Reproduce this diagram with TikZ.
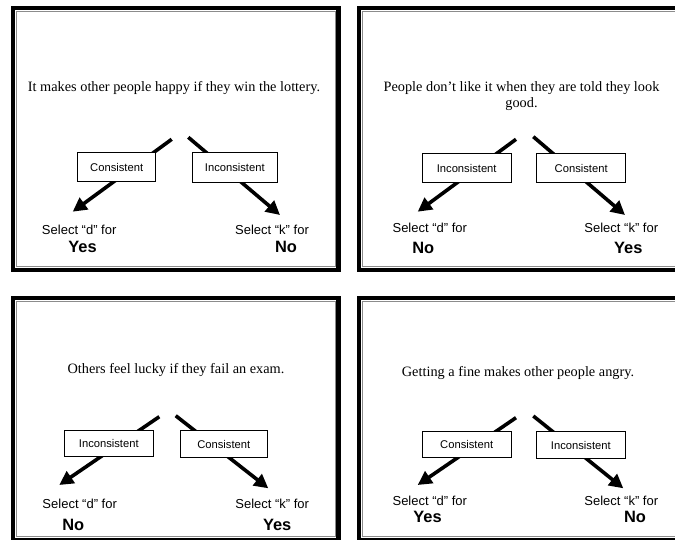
\documentclass[tikz,border=0pt]{standalone}
\usepackage{fontspec}
\setmainfont{Liberation Serif}
\newfontfamily\arialfont{Liberation Sans}
\usetikzlibrary{arrows.meta}
\tikzset{
  sent/.style={font=\fontsize{14.3}{15.7}\selectfont, inner sep=0pt, anchor=base},
  choice/.style={draw, fill=white, line width=0.8pt, inner sep=0pt,
    font=\arialfont\fontsize{11.2}{13}\selectfont},
  sel/.style={font=\arialfont\fontsize{13}{15}\selectfont, inner sep=0pt},
  ans/.style={font=\arialfont\bfseries\fontsize{16.4}{18}\selectfont, inner sep=0pt},
  arr/.style={line width=3.6pt, -{Triangle[length=14pt,width=14pt]}},
  frameout/.style={draw=black, line width=4.5pt},
  framein/.style={draw=black!45, line width=1.2pt},
}
\begin{document}
\begin{tikzpicture}[x=1pt,y=-1pt]
\useasboundingbox (0,0) rectangle (675,540);
\fill[white] (0,0) rectangle (675,540);
\clip (0,0) rectangle (675,540);

% ---------- frames ----------
\draw[frameout] (13.2,8) rectangle (338.5,270);
\draw[framein] (16.7,11.7) rectangle (335.2,266.5);
\draw[frameout] (359.2,8) rectangle (690,270);
\draw[framein] (362.7,11.7) rectangle (690,266.5);
\draw[frameout] (13.2,298) rectangle (338.5,540);
\draw[framein] (16.7,301.7) rectangle (335.2,536.3);
\draw[frameout] (359.2,298) rectangle (690,540);
\draw[framein] (362.7,301.7) rectangle (690,536.3);

% ---------- panel 1 ----------
\node[sent] (s1) at (174,91.7) {It makes other people happy if they win the lottery.};
\coordinate (a1l) at (171.7,139.3);
\coordinate (t1l) at (72.7,211.7);
\coordinate (a1r) at (188.3,137.3);
\coordinate (t1r) at (280,215);
\draw[arr] (a1l) -- (t1l);
\draw[arr] (a1r) -- (t1r);
\node[choice, minimum width=78pt, minimum height=29pt] (b1l) at (116.7,167.2) {Consistent};
\node[choice, minimum width=85pt, minimum height=30pt] (b1r) at (234.8,167.7) {Inconsistent};
\node[sel] (d1) at (79.2,229.5) {Select “d” for};
\node[ans] (y1) at (82.5,246.7) {Yes};
\node[sel] (k1) at (272,229.5) {Select “k” for};
\node[ans] (n1) at (286,247) {No};

% ---------- panel 2 ----------
\node[sent, anchor=north, align=center] (s2) at (521.5,81.2)
  {People don’t like it when they are told they look\\good.};
\coordinate (a2l) at (516,139.3);
\coordinate (t2l) at (417.7,211.7);
\coordinate (a2r) at (533.3,136.7);
\coordinate (t2r) at (625,215);
\draw[arr] (a2l) -- (t2l);
\draw[arr] (a2r) -- (t2r);
\node[choice, minimum width=88.7pt, minimum height=29.4pt] (b2l) at (466.7,168) {Inconsistent};
\node[choice, minimum width=89pt, minimum height=29.4pt] (b2r) at (581.2,168) {Consistent};
\node[sel] (d2) at (429.8,228.3) {Select “d” for};
\node[ans] (n2) at (423.3,248.3) {No};
\node[sel] (k2) at (621.3,228.3) {Select “k” for};
\node[ans] (y2) at (628.3,248.3) {Yes};

% ---------- panel 3 ----------
\node[sent] (s3) at (176,373.3) {Others feel lucky if they fail an exam.};
\coordinate (a3l) at (159.3,416.7);
\coordinate (t3l) at (59.3,485);
\coordinate (a3r) at (175.7,415.7);
\coordinate (t3r) at (268.3,488.3);
\draw[arr] (a3l) -- (t3l);
\draw[arr] (a3r) -- (t3r);
\node[choice, minimum width=89pt, minimum height=26pt] (b3l) at (108.8,443) {Inconsistent};
\node[choice, minimum width=87.7pt, minimum height=26.6pt] (b3r) at (223.8,444) {Consistent};
\node[sel] (d3) at (79.7,504) {Select “d” for};
\node[ans] (n3) at (73.3,525) {No};
\node[sel] (k3) at (272.2,504) {Select “k” for};
\node[ans] (y3) at (277.2,525) {Yes};

% ---------- panel 4 ----------
\node[sent] (s4) at (518,376.7) {Getting a fine makes other people angry.};
\coordinate (a4l) at (516,417.7);
\coordinate (t4l) at (417.7,485);
\coordinate (a4r) at (533.3,416);
\coordinate (t4r) at (623.3,488.3);
\draw[arr] (a4l) -- (t4l);
\draw[arr] (a4r) -- (t4r);
\node[choice, minimum width=88.7pt, minimum height=25.6pt] (b4l) at (466.7,444.5) {Consistent};
\node[choice, minimum width=88.3pt, minimum height=26.6pt] (b4r) at (580.8,445) {Inconsistent};
\node[sel] (d4) at (429.8,500.7) {Select “d” for};
\node[ans] (y4) at (427.5,517.3) {Yes};
\node[sel] (k4) at (621.3,500.7) {Select “k” for};
\node[ans] (n4) at (635,517.3) {No};
\end{tikzpicture}
\end{document}
